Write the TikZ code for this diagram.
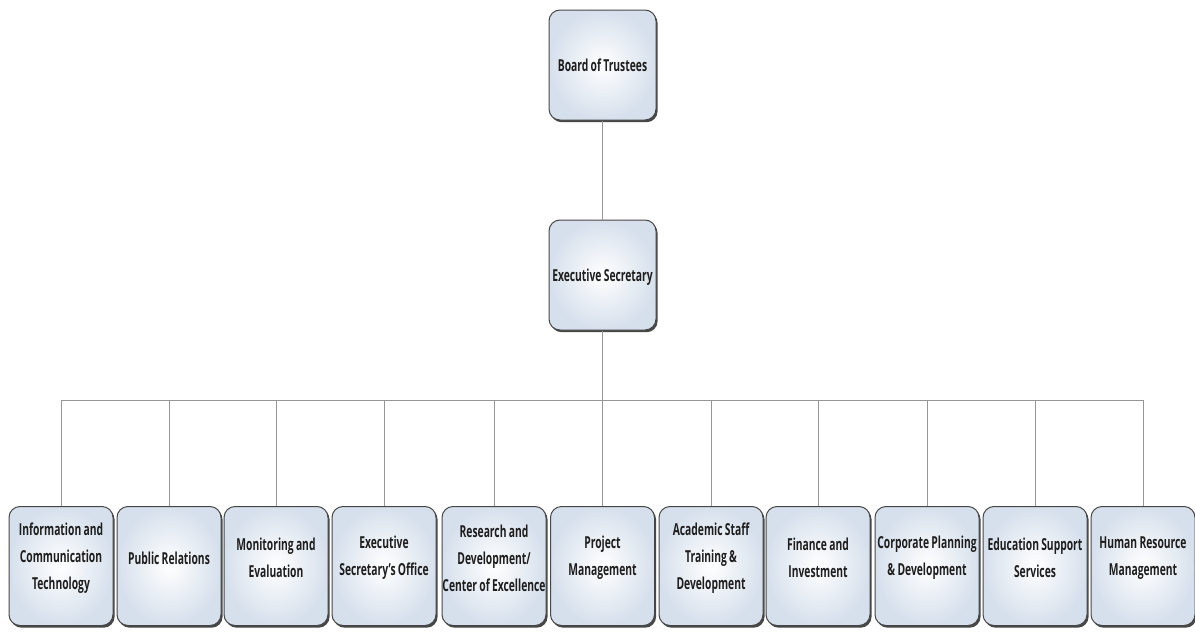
\documentclass[tikz,border=0pt]{standalone}
\usepackage{fontspec}
\setmainfont{Open Sans}[FakeStretch=0.625, WordSpace=0.85]
\usetikzlibrary{shadows}
\definecolor{boxedge}{RGB}{70,70,70}
\definecolor{boxout}{RGB}{214,224,236}
\definecolor{lnk}{RGB}{150,150,150}
\definecolor{txt}{RGB}{30,30,30}
\tikzset{
  unitbox/.style={draw=boxedge, line width=1pt, rounded corners=11pt,
    inner color=white, outer color=boxout,
    drop shadow={shadow xshift=1.6pt, shadow yshift=-2.2pt, fill=black!80, opacity=0.9},
    inner sep=2pt},
  lbl/.style={align=center, inner sep=0pt, text=txt,
    font=\fontsize{16.5}{27}\selectfont\bfseries},
  topbox/.style={unitbox, minimum width=107pt, minimum height=110pt},
  botbox/.style={unitbox, minimum width=104pt, minimum height=119pt},
  link/.style={draw=lnk, line width=0.9pt}
}
\begin{document}
\begin{tikzpicture}[x=1pt,y=-1pt]
\useasboundingbox (0,0) rectangle (1195,632);
\node[topbox] (bot) at (602.5,65) {};
\node[lbl] (bott) at (bot) {Board of Trustees};
\node[topbox] (es) at (602.5,275) {};
\node[lbl] (est) at ([yshift=-2pt]es.center) {Executive Secretary};
\coordinate (hub) at (602.5,400);
\foreach \n/\x in {b1/61,b2/169,b3/276,b4/384,b5/494,b6/602.5,b7/711,b8/818,b9/927,b10/1035,b11/1143}{
  \coordinate (j\n) at (\x,400);
}
\draw[link] (bot) -- (es);
\draw[link] (es) -- (hub);
\draw[link] (jb1) -- (jb11);
\foreach \n/\x/\t in {
  b1/61/{Information and\\Communication\\Technology},
  b2/169/{Public Relations},
  b3/276/{Monitoring and\\Evaluation},
  b4/384/{Executive\\Secretary's Office},
  b5/494/{Research and\\Development/\\Center of Excellence},
  b6/602.5/{Project\\Management},
  b7/711/{Academic Staff\\Training \&\\Development},
  b8/818/{Finance and\\Investment},
  b9/927/{Corporate Planning\\\& Development},
  b10/1035/{Education Support\\Services},
  b11/1143/{Human Resource\\Management}}{
  \node[botbox] (\n) at (\x,566) {};
  \node[lbl] (\n t) at ([yshift=8pt]\n.center) {\t};
  \draw[link] (j\n) -- (\n);
}
\end{tikzpicture}
\end{document}
